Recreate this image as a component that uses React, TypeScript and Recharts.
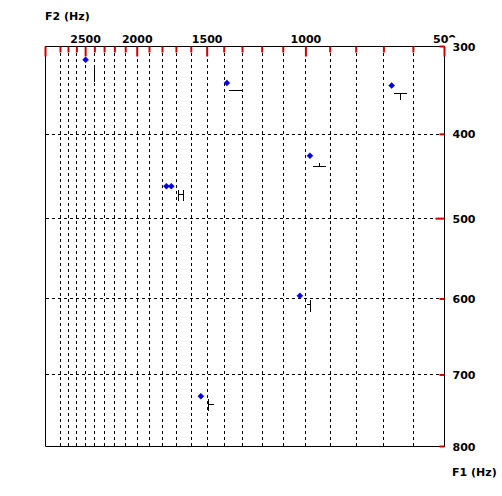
import React from 'react';
import { ScatterChart, Scatter, XAxis, YAxis, CartesianGrid, ReferenceArea, Customized } from 'recharts';

// Measured vowels (Hz)
const vowelF2 = [2500, 1385, 673, 983, 1771, 1736, 1026, 1539];
const vowelF1 = [315, 341, 344, 425, 461, 461, 596, 729];

// Reference (target) vowel marks (Hz) and their glyph type
const targetF2 = [2411, 1339, 645, 946, 1670, 983, 1494];
const targetF1 = [329, 349, 352, 437, 470, 606, 740];
const targetGlyph = ['|', '-', 'T', 'inv', 'H', 'left', 'right'];

// Axis ticks (Hz)
const f2Ticks = [500, 600, 700, 800, 900, 1000, 1100, 1200, 1300, 1400, 1500, 1600, 1700, 1800, 1900, 2000, 2100, 2200, 2300, 2400, 2500, 2600, 2700, 2800, 3000];
const f1Ticks = [300, 400, 500, 600, 700, 800];
const f2Range = [500, 3000];
const f1Range = [300, 800];

const bark = (f: number) => 13 * Math.atan(0.00076 * f) + 3.5 * Math.atan((f / 7500) * (f / 7500));

const nearestHz = (list: number[], v: number) => {
  let best = list[0];
  let bd = Infinity;
  for (const h of list) {
    const d = Math.abs(bark(h) - v);
    if (d < bd) { bd = d; best = h; }
  }
  return best;
};

const vowelData = vowelF2.map((f2, i) => ({ x: bark(f2), y: bark(vowelF1[i]) }));
const targetData = targetF2.map((f2, i) => ({ x: bark(f2), y: bark(targetF1[i]), g: targetGlyph[i] }));

const FONT = '"DejaVu Sans", sans-serif';
const RED = '#d00000';

const XTick = (props: any) => {
  const { x, y, payload } = props;
  const hz = nearestHz(f2Ticks, payload.value);
  const major = hz % 500 === 0;
  return (
    <g>
      <line x1={x} x2={x} y1={y} y2={y + (major ? 10 : 6)} stroke={RED} strokeWidth={2} />
      {major && hz !== 3000 && (
        <text x={x} y={y - 4} textAnchor="middle" fontFamily={FONT} fontWeight="bold" fontSize={11} fill="#000">
          {hz}
        </text>
      )}
    </g>
  );
};

const YTick = (props: any) => {
  const { x, y, payload } = props;
  const hz = nearestHz(f1Ticks, payload.value);
  const major = hz % 500 === 0;
  return (
    <g>
      <line x1={x} x2={x - (major ? 9 : 5)} y1={y} y2={y} stroke={RED} strokeWidth={2} />
      <rect x={x + 4} y={y - 9} width={30} height={18} fill="#fff" />
      <text x={x + 8} y={y + 4} textAnchor="start" fontFamily={FONT} fontWeight="bold" fontSize={11} fill="#000">
        {hz}
      </text>
    </g>
  );
};

const Diamond = (props: any) => {
  const { cx, cy } = props;
  const r = 3;
  return (
    <polygon
      points={`${cx},${cy - r} ${cx + r},${cy} ${cx},${cy + r} ${cx - r},${cy}`}
      fill="#0000ee"
      stroke="#0000a0"
      strokeWidth={0.5}
    />
  );
};

const Glyph = (props: any) => {
  const { cx, cy, payload } = props;
  const X = Math.round(cx) + 0.5;
  const Y = Math.round(cy) + 0.5;
  const segs: number[][] = [];
  switch (payload.g) {
    case '|': segs.push([0, -8, 0, 9]); break;
    case '-': segs.push([-7, 0, 7, 0]); break;
    case 'T': segs.push([-7, 0, 6, 0], [0, 0, 0, 6]); break;
    case 'inv': segs.push([-7, 0, 6, 0], [0, -4, 0, 0]); break;
    case 'H': segs.push([-3, -5, -3, 6], [2, -5, 2, 6], [-3, 0, 2, 0]); break;
    case 'left': segs.push([0, -5, 0, 7], [-4, 0, 0, 0]); break;
    case 'right': segs.push([0, -6, 0, 6], [0, 0, 5, 0]); break;
  }
  return (
    <g>
      {segs.map((s, i) => (
        <line key={i} x1={X + s[0]} y1={Y + s[1]} x2={X + s[2]} y2={Y + s[3]} stroke="#000" strokeWidth={1} shapeRendering="crispEdges" />
      ))}
    </g>
  );
};

const Titles = () => (
  <g>
    <text x={45} y={20} fontFamily={FONT} fontWeight="bold" fontSize={11} fill="#000">F2 (Hz)</text>
    <text x={452} y={476} fontFamily={FONT} fontWeight="bold" fontSize={11} fill="#000">F1 (Hz)</text>
  </g>
);

export default function App() {
  return (
    <div style={{ position: 'absolute', left: 0, top: 0, width: 502, height: 496, background: '#fff' }}>
      <ScatterChart width={502} height={496} margin={{ top: 0, left: 45.5, right: 0, bottom: 49.5 }}>
        <CartesianGrid stroke="#000" strokeDasharray="3 3" shapeRendering="crispEdges" />
        <XAxis
          type="number"
          dataKey="x"
          orientation="top"
          height={46.5}
          reversed
          domain={[bark(f2Range[0]), bark(f2Range[1])]}
          ticks={f2Ticks.map(bark)}
          allowDataOverflow
          interval={0}
          tickLine={false}
          tickSize={0}
          tickMargin={0}
          axisLine={{ stroke: '#000' }}
          tick={<XTick />}
        />
        <YAxis
          type="number"
          dataKey="y"
          orientation="right"
          width={57.5}
          reversed
          domain={[bark(f1Range[0]), bark(f1Range[1])]}
          ticks={f1Ticks.map(bark)}
          allowDataOverflow
          interval={0}
          tickLine={false}
          tickSize={0}
          tickMargin={0}
          axisLine={{ stroke: '#000' }}
          tick={<YTick />}
        />
        <ReferenceArea
          x1={bark(f2Range[0])}
          x2={bark(f2Range[1])}
          y1={bark(f1Range[0])}
          y2={bark(f1Range[1])}
          fill="none"
          fillOpacity={0}
          stroke="#000"
          strokeOpacity={1}
        />
        <Scatter data={targetData} shape={<Glyph />} isAnimationActive={false} />
        <Scatter data={vowelData} shape={<Diamond />} isAnimationActive={false} />
        <Customized component={<Titles />} />
      </ScatterChart>
    </div>
  );
}
